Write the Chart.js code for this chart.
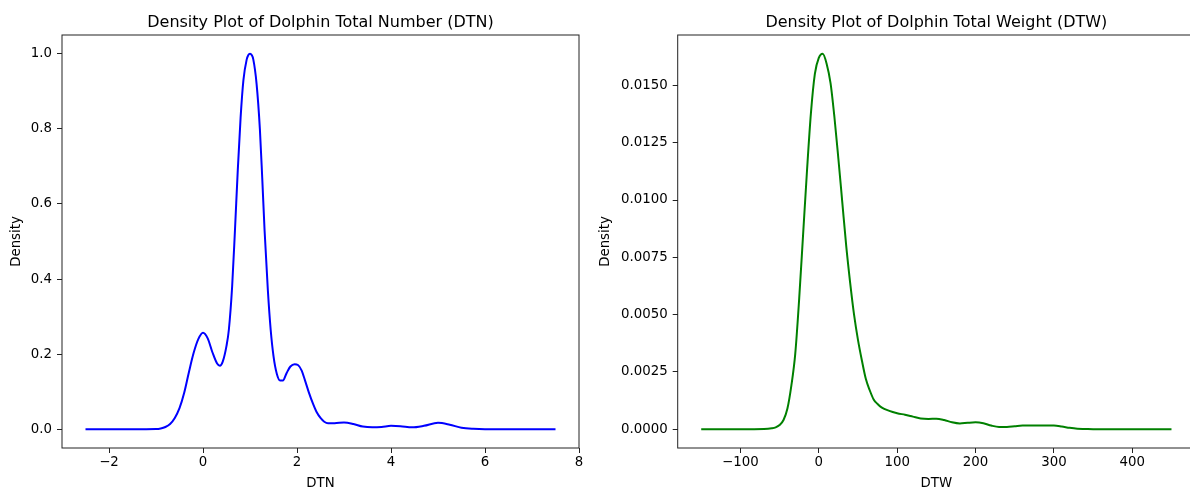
<!DOCTYPE html>
<html>
<head>
<meta charset="utf-8">
<title>Dolphin density plots</title>
<script src="https://cdn.jsdelivr.net/npm/chart.js@4.4.0/dist/chart.umd.min.js"></script>
<style>
  html, body { margin: 0; padding: 0; background: #fff; overflow: hidden; }
  body { width: 1190px; height: 490px; position: relative; }
  canvas { position: absolute; top: 0; }
  #dtnChart { left: 0; }
  #dtwChart { left: 595px; }
</style>
</head>
<body>
<canvas id="dtnChart" width="595" height="490"></canvas>
<canvas id="dtwChart" width="620" height="490"></canvas>
<script>
// DTN density curve
const dtnX = [-2.5, -1.5, -1.0, -0.9, -0.8, -0.7, -0.6, -0.5, -0.4, -0.3, -0.2, -0.1, 0.0, 0.1, 0.2, 0.3, 0.36, 0.42,
  0.5, 0.55, 0.62, 0.68, 0.74, 0.8, 0.86, 0.93, 0.965, 1.0, 1.035, 1.07, 1.14, 1.21, 1.26, 1.31, 1.38, 1.44, 1.5, 1.57, 1.64, 1.7,
  1.78, 1.86, 1.95, 2.02, 2.1, 2.17, 2.25, 2.34, 2.42, 2.5, 2.58, 2.66, 2.8, 3.0, 3.2, 3.4, 3.6, 3.8, 4.0, 4.2, 4.45,
  4.7, 5.0, 5.25, 5.5, 5.75, 6.0, 7.5];
const dtnY = [0, 0, 0.0005, 0.002, 0.006, 0.014, 0.03, 0.056, 0.097, 0.152, 0.203, 0.24, 0.257, 0.242, 0.205, 0.175, 0.169, 0.18,
  0.222, 0.265, 0.38, 0.53, 0.69, 0.83, 0.93, 0.985, 0.997, 1.0, 0.997, 0.985, 0.92, 0.80, 0.67, 0.53, 0.37, 0.265, 0.195, 0.148, 0.13, 0.13,
  0.15, 0.167, 0.173, 0.171, 0.156, 0.13, 0.099, 0.068, 0.045, 0.03, 0.02, 0.016, 0.016, 0.018, 0.014, 0.007, 0.005, 0.006, 0.009, 0.008, 0.005,
  0.009, 0.017, 0.012, 0.004, 0.001, 0, 0];
const dtnXTicks = [-2, 0, 2, 4, 6, 8];
const dtnYTicks = [0, 0.2, 0.4, 0.6, 0.8, 1.0];

// DTW density curve
const dtwX = [-150, -100, -70, -60, -55, -50, -45, -40, -35, -30, -25, -20, -15, -10, -5, 0, 5, 10, 15, 20, 25, 30, 35,
  40, 45, 50, 55, 60, 65, 70, 75, 80, 90, 100, 110, 120, 130, 140, 150, 160, 170, 180, 190, 200, 210, 220, 230, 240,
  250, 260, 280, 300, 310, 320, 330, 340, 350, 450];
const dtwY = [0, 0, 0.00001, 0.00004, 0.00008, 0.00018, 0.0004, 0.0009, 0.0019, 0.0033, 0.0057, 0.0085, 0.0113, 0.0138, 0.0155, 0.0162, 0.01638, 0.01595, 0.0151, 0.0136, 0.0118, 0.0099, 0.008,
  0.0064, 0.005, 0.0039, 0.003, 0.0022, 0.0017, 0.0013, 0.0011, 0.00095, 0.0008, 0.0007, 0.00063, 0.00055, 0.00047, 0.00045, 0.00046, 0.0004, 0.0003, 0.00025, 0.00028, 0.0003, 0.00026, 0.00016, 0.0001, 0.0001,
  0.00013, 0.00016, 0.00016, 0.00016, 0.00012, 0.00006, 0.00002, 0.00001, 0, 0];
const dtwXTicks = [-100, 0, 100, 200, 300, 400];
const dtwYTicks = [0, 0.0025, 0.005, 0.0075, 0.01, 0.0125, 0.015];

Chart.defaults.font.family = '"DejaVu Sans", sans-serif';
Chart.defaults.color = '#000';
Chart.defaults.animation = false;

const tickSize = 13.33;

function minus(v) {
    return String(v).replace('-', '\u2212');
}

// axes box + title, matplotlib style
const framePlugin = {
    id: 'frame',
    afterDraw(chart, args, opts) {
        const {ctx, chartArea: a} = chart;
        ctx.save();
        ctx.strokeStyle = '#222';
        ctx.lineWidth = 1;
        ctx.strokeRect(a.left, a.top, a.right - a.left, a.bottom - a.top);
        ctx.font = '16px "DejaVu Sans"';
        ctx.fillStyle = '#000';
        ctx.textAlign = 'center';
        ctx.textBaseline = 'alphabetic';
        ctx.fillText(opts.text, (a.left + a.right) / 2, a.top - 8);
        ctx.restore();
    }
};

function densityChart(canvasId, xs, ys, color, s) {
    const points = xs.map((x, i) => ({x: x, y: ys[i]}));

    return new Chart(document.getElementById(canvasId), {
        type: 'line',
        data: {
            datasets: [{
                data: points,
                borderColor: color,
                borderWidth: 2,
                pointRadius: 0,
                fill: false,
                cubicInterpolationMode: 'monotone'
            }]
        },
        options: {
            responsive: false,
            layout: { padding: { top: 35, right: s.padRight, bottom: 0, left: 0 } },
            plugins: {
                legend: { display: false },
                tooltip: { enabled: false },
                frame: { text: s.title }
            },
            scales: {
                x: {
                    type: 'linear',
                    min: s.xMin,
                    max: s.xMax,
                    afterBuildTicks: sc => { sc.ticks = s.xTicks.map(v => ({value: v})); },
                    afterFit: sc => { sc.height = 42; },
                    ticks: { callback: v => minus(v), font: { size: tickSize }, padding: 2, maxRotation: 0, autoSkip: false },
                    grid: { drawOnChartArea: false, tickLength: 5, tickColor: '#222' },
                    border: { display: false },
                    title: { display: true, text: s.xLabel, font: { size: tickSize, lineHeight: 1 }, padding: 0 }
                },
                y: {
                    type: 'linear',
                    min: s.yMin,
                    max: s.yMax,
                    afterBuildTicks: sc => { sc.ticks = s.yTicks.map(v => ({value: v})); },
                    afterFit: sc => { sc.width = s.yWidth; },
                    ticks: { callback: v => v.toFixed(s.yDigits), font: { size: tickSize }, padding: 5, autoSkip: false },
                    grid: { drawOnChartArea: false, tickLength: 5, tickColor: '#222' },
                    border: { display: false },
                    title: { display: true, text: 'Density', font: { size: tickSize, lineHeight: 1 }, padding: { top: s.yTitlePad, bottom: 0 } }
                }
            }
        },
        plugins: [framePlugin]
    });
}

densityChart('dtnChart', dtnX, dtnY, '#0000ff', {
    title: 'Density Plot of Dolphin Total Number (DTN)',
    xLabel: 'DTN',
    xMin: -3, xMax: 8, xTicks: dtnXTicks,
    yMin: -0.05, yMax: 1.05, yTicks: dtnYTicks, yDigits: 1,
    yWidth: 62, yTitlePad: 10, padRight: 16
});

densityChart('dtwChart', dtwX, dtwY, '#008000', {
    title: 'Density Plot of Dolphin Total Weight (DTW)',
    xLabel: 'DTW',
    xMin: -180, xMax: 480, xTicks: dtwXTicks,
    yMin: -0.00082, yMax: 0.0172, yTicks: dtwYTicks, yDigits: 4,
    yWidth: 82.7, yTitlePad: 4, padRight: 20
});
</script>
</body>
</html>
